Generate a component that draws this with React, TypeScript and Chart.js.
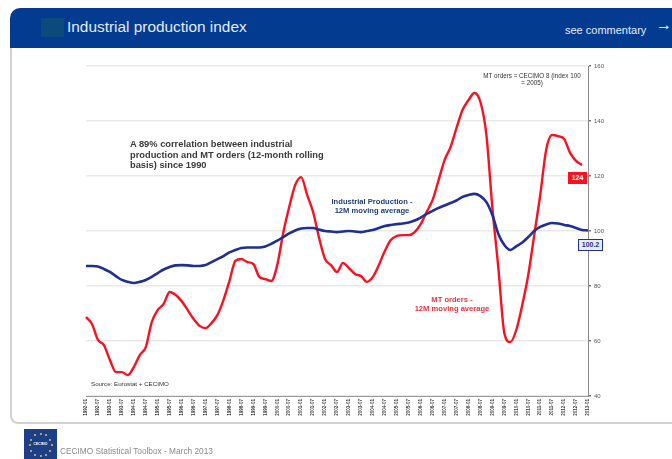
import React, { useEffect, useRef } from "react";
import { Chart, registerables } from "chart.js";

Chart.register(...registerables);

const years = Array.from({ length: 22 }, (_, k) => 1992 + k);
const quarters = ["01", "04", "07", "10"];
const categories: string[] = years.flatMap((y) => quarters.map((q) => `${y}-${q}`)).slice(0, 85);

const mtOrders: (number | null)[] = [
  68.7, 66.2, 60.4, 58.5, 53.1, 48.7, 48.7, 47.6, 50.5, 54.9, 57.8, 66.9, 71.3, 73.5, 77.8, 76.7, 74.5,
  71.3, 68, 65.5, 64.7, 66.5, 69.5, 74.9, 81.8, 89.1, 89.8, 88.7, 88, 83.3, 82.5, 81.8, 87.6, 99.3,
  108.7, 116.7, 119.6, 113.1, 106.9, 97.5, 89.8, 87.6, 85.1, 88.4, 86.5, 84.4, 83.6, 81.5, 83.3, 87.6,
  92.7, 96.7, 98.2, 98.5, 98.5, 99.6, 102.5, 106.9, 111.3, 118.5, 125.8, 130.5, 137.5, 144, 147.6,
  150.2, 146.9, 134.9, 108.4, 86.5, 62.9, 59.6, 64, 73.1, 84, 98.5, 113, 129.5, 134.9, 134.5, 133.5,
  128.4, 125.5, 124, null,
];

const industrialProduction: number[] = [
  87.3, 87.3, 87.1, 86.2, 85.1, 83.6, 82.2, 81.5, 81.1, 81.5, 82.2, 83.3, 84.7, 86, 86.9, 87.5, 87.6,
  87.5, 87.3, 87.3, 87.6, 88.7, 89.8, 90.9, 92.2, 93.1, 93.8, 94, 94, 94, 94.4, 95.3, 96.5, 97.8, 99.1,
  100.2, 100.9, 101.1, 101.1, 100.5, 100, 99.8, 99.6, 99.8, 100, 99.8, 99.6, 100, 100.4, 101.1, 101.8,
  102.2, 102.5, 102.7, 103.1, 103.8, 104.9, 106.2, 107.3, 108.4, 109.3, 110.2, 111.1, 112.4, 113.1,
  113.5, 112.7, 110.5, 105.8, 98.9, 94.9, 93.1, 94.4, 95.8, 97.8, 100, 101.5, 102.4, 102.9, 102.7,
  102.2, 101.8, 101.1, 100.4, 100.2,
];

const yTicks = [40, 60, 80, 100, 120, 140, 160];

const FONT = "'Liberation Sans', Arial, sans-serif";

const box = (s: React.CSSProperties): React.CSSProperties => ({ position: "absolute", fontFamily: FONT, ...s });

const stars = [0, 30, 60, 90, 120, 150, 180, 210, 240, 270, 300, 330];

export default function App() {
  const ref = useRef<HTMLCanvasElement>(null);
  useEffect(() => {
    const chart = new Chart(ref.current!, {
      type: "line",
      data: {
        labels: categories,
        datasets: [
          {
            label: "Industrial Production - 12M moving average",
            data: industrialProduction,
            borderColor: "#1f2f96",
            borderWidth: 2.6,
            pointRadius: 0,
            cubicInterpolationMode: "monotone",
          },
          {
            label: "MT orders - 12M moving average",
            data: mtOrders,
            borderColor: "#fa1020",
            borderWidth: 2.4,
            pointRadius: 0,
            cubicInterpolationMode: "monotone",
          },
        ],
      },
      options: {
        responsive: false,
        animation: false,
        layout: { padding: { left: 86, top: 66, right: 64, bottom: 33 } },
        plugins: { legend: { display: false }, tooltip: { enabled: false }, title: { display: false } },
        scales: {
          x: {
            offset: false,
            grid: { display: false, drawTicks: true, tickLength: 2, tickColor: "#888888" },
            border: { color: "#9a9a9a", width: 1 },
            afterFit: (s: any) => {
              s.height = 30;
            },
            ticks: {
              autoSkip: false,
              minRotation: 90,
              maxRotation: 90,
              padding: 1,
              color: "#444444",
              font: { family: "'Liberation Sans'", size: 4.6, weight: "bold" },
              callback: (_v: any, i: number) => (i % 2 === 0 ? categories[i] : ""),
            },
          },
          y: {
            position: "right",
            min: 40,
            max: 160,
            afterFit: (s: any) => {
              s.width = 20;
            },
            afterBuildTicks: (s: any) => {
              s.ticks = yTicks.map((value) => ({ value }));
            },
            grid: { color: "#e9e9e9", lineWidth: 1.5, tickColor: "#777777", tickLength: 3 },
            border: { color: "#8a8a8a", width: 1 },
            ticks: {
              padding: 3,
              color: "#555555",
              font: { family: "'Liberation Sans'", size: 6 },
            },
          },
        },
      },
    });
    return () => chart.destroy();
  }, []);

  return (
    <div style={{ position: "fixed", left: 0, top: 0, width: 672, height: 459, overflow: "hidden", background: "#fff", filter: "blur(0.5px)" }}>
      <div style={{ position: "absolute", left: 10, top: 20, width: 680, height: 402, borderLeft: "2px solid #d2d2d2", borderBottom: "2px solid #d2d2d2", borderBottomLeftRadius: 8, boxSizing: "content-box" }} />
      <div style={{ position: "absolute", left: 10, top: 8, width: 670, height: 40, background: "#033b91", borderTopLeftRadius: 10 }} />
      <div style={{ position: "absolute", left: 41, top: 18, width: 23, height: 19, background: "#0d4a7c" }} />
      <div style={box({ left: 67, top: 17, fontSize: 15.4, color: "#e6ecf8", whiteSpace: "nowrap", lineHeight: "20px" })}>Industrial production index</div>
      <div style={box({ left: 565, top: 23, fontSize: 11, color: "#e6ecf8", whiteSpace: "nowrap", lineHeight: "14px" })}>see commentary</div>
      <div style={box({ left: 656, top: 16, fontSize: 16, color: "#fff", lineHeight: "18px" })}>→</div>

      <canvas ref={ref} width={672} height={459} style={{ position: "absolute", left: 0, top: 0, display: "block" }} />

      <div style={box({ left: 130, top: 139, width: 212, fontSize: 9.3, fontWeight: 700, lineHeight: "10.5px", color: "#3a3a3a" })}>
        A 89% correlation between industrial production and MT orders (12-month rolling basis) since 1990
      </div>
      <div style={box({ left: 312, top: 197, width: 120, textAlign: "center", fontSize: 7.6, fontWeight: 700, lineHeight: "9px", color: "#1f3f7a" })}>
        Industrial Production -<br />12M moving average
      </div>
      <div style={box({ left: 392, top: 295, width: 120, textAlign: "center", fontSize: 7.6, fontWeight: 700, lineHeight: "9px", color: "#f0303a" })}>
        MT orders -<br />12M moving average
      </div>
      <div style={box({ left: 472, top: 72, width: 120, textAlign: "center", fontSize: 6.3, lineHeight: "7px", color: "#333" })}>
        MT orders = CECIMO 8 (index 100<br />= 2005)
      </div>
      <div style={box({ left: 91, top: 380, fontSize: 6.2, color: "#333", whiteSpace: "nowrap", lineHeight: "7px" })}>Source: Eurostat + CECIMO</div>

      <div style={box({ left: 568, top: 172, width: 17, height: 10, border: "1.5px solid #fa1020", background: "#fa1020", color: "#fff", fontSize: 7, fontWeight: 700, textAlign: "center", lineHeight: "10px" })}>124</div>
      <div style={box({ left: 578, top: 239, width: 23, height: 10, border: "1.5px solid #1f2f96", background: "#e9ecf8", color: "#1f2f96", fontSize: 7, fontWeight: 700, textAlign: "center", lineHeight: "10px" })}>100.2</div>

      <div style={{ position: "absolute", left: 24, top: 429, width: 33, height: 31, background: "#1c3f87" }}>
        {stars.map((a) => (
          <span key={a} style={{ position: "absolute", left: 15.5 + 11 * Math.cos((a * Math.PI) / 180), top: 15 + 11 * Math.sin((a * Math.PI) / 180), width: 2, height: 2, background: "#d8c94a", borderRadius: 1 }} />
        ))}
        <div style={box({ left: 0, top: 13, width: 33, textAlign: "center", fontSize: 3.5, color: "#fff", fontWeight: 700, lineHeight: "5px" })}>CECIMO</div>
      </div>
      <div style={box({ left: 60, top: 446, fontSize: 8.3, color: "#8a8a8a", whiteSpace: "nowrap", lineHeight: "11px" })}>CECIMO Statistical Toolbox - March 2013</div>
    </div>
  );
}
